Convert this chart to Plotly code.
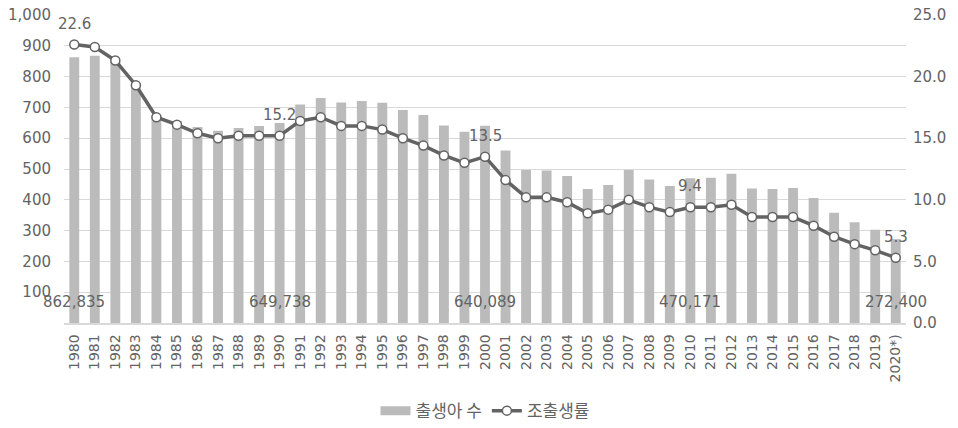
import plotly.graph_objects as go

years = ["1980","1981","1982","1983","1984","1985","1986","1987","1988","1989",
         "1990","1991","1992","1993","1994","1995","1996","1997","1998","1999",
         "2000","2001","2002","2003","2004","2005","2006","2007","2008","2009",
         "2010","2011","2012","2013","2014","2015","2016","2017","2018","2019","2020*)"]

births = [862835, 867409, 848312, 769155, 674793, 655489, 636019, 623831, 633092, 639431,
          649738, 709275, 730678, 715826, 721185, 715020, 691226, 675394, 641594, 620668,
          640089, 559934, 496911, 495036, 476958, 435031, 448153, 496822, 465892, 444849,
          470171, 471265, 484550, 436455, 435435, 438420, 406243, 357771, 326822, 302676, 272400]

cbr = [22.6, 22.4, 21.3, 19.3, 16.7, 16.1, 15.4, 15.0, 15.2, 15.2,
       15.2, 16.4, 16.7, 16.0, 16.0, 15.7, 15.0, 14.4, 13.6, 13.0,
       13.5, 11.6, 10.2, 10.2, 9.8, 8.9, 9.2, 10.0, 9.4, 9.0,
       9.4, 9.4, 9.6, 8.6, 8.6, 8.6, 7.9, 7.0, 6.4, 5.9, 5.3]

label_idx = [0, 10, 20, 30, 40]

left_ticks = [100, 200, 300, 400, 500, 600, 700, 800, 900, 1000]
right_ticks = [0, 5, 10, 15, 20, 25]

NUMFONT = "DejaVu Sans"
KRFONT = "Noto Sans CJK KR"
TXT = "#636363"
BAR = "#BBBBBB"
LINE = "#636363"

fig = go.Figure()
fig.add_trace(go.Bar(
    x=years, y=[b / 1000 for b in births], name="출생아 수",
    marker=dict(color=BAR, line=dict(width=0)),
    yaxis="y", showlegend=False,
))
# legend entry with a wide swatch for the bar series
fig.add_trace(go.Scatter(
    x=[None], y=[None], name="출생아 수", mode="lines",
    line=dict(color=BAR, width=9), yaxis="y", hoverinfo="skip",
))
fig.add_trace(go.Scatter(
    x=years, y=cbr, name="조출생률", mode="lines+markers",
    line=dict(color=LINE, width=3.5),
    marker=dict(symbol="circle", size=9, color="white", line=dict(color=LINE, width=1.5)),
    yaxis="y2",
))

annotations = []
for i in label_idx:
    # category axis annotations use the category index
    annotations.append(dict(
        x=i, y=cbr[i], xref="x", yref="y2", text=f"{cbr[i]:.1f}",
        showarrow=False, yanchor="bottom", yshift=10,
        font=dict(family=NUMFONT, size=15, color=TXT),
    ))
    annotations.append(dict(
        x=i, y=0, xref="x", yref="y", text=f"{births[i]:,}",
        showarrow=False, yanchor="bottom", yshift=10,
        font=dict(family=NUMFONT, size=15, color=TXT),
    ))

fig.update_layout(
    width=958, height=428,
    margin=dict(l=64, r=52, t=15, b=105, autoexpand=False),
    paper_bgcolor="white", plot_bgcolor="white",
    font=dict(family=NUMFONT, size=15, color=TXT),
    bargap=0.52,
    showlegend=True,
    legend=dict(orientation="h", x=0.5, xanchor="center", y=-0.286, yanchor="middle",
                font=dict(family=KRFONT, size=17, color=TXT),
                traceorder="normal", itemsizing="trace"),
    xaxis=dict(type="category", tickangle=-90, showgrid=False, range=[-0.5, 40.5],
               showline=True, linecolor="#D9D9D9", linewidth=1.5, automargin=False,
               ticklabelstandoff=4,
               tickfont=dict(family=NUMFONT, size=14, color=TXT), ticks=""),
    yaxis=dict(range=[0, 1000], tickvals=left_ticks, tickformat=",", automargin=False,
               showgrid=True, gridcolor="#D9D9D9", gridwidth=1, zeroline=False,
               ticklabelstandoff=12,
               tickfont=dict(family=NUMFONT, size=15, color=TXT), ticks=""),
    yaxis2=dict(range=[0, 25], tickvals=right_ticks, tickformat=".1f", automargin=False,
                overlaying="y", side="right", showgrid=False, zeroline=False,
                ticklabelstandoff=6,
                tickfont=dict(family=NUMFONT, size=15, color=TXT), ticks=""),
    annotations=annotations,
)

fig.write_html("out.html",
               config={"displayModeBar": False},
               post_script="document.body.style.margin='0';document.body.style.overflow='hidden';")
